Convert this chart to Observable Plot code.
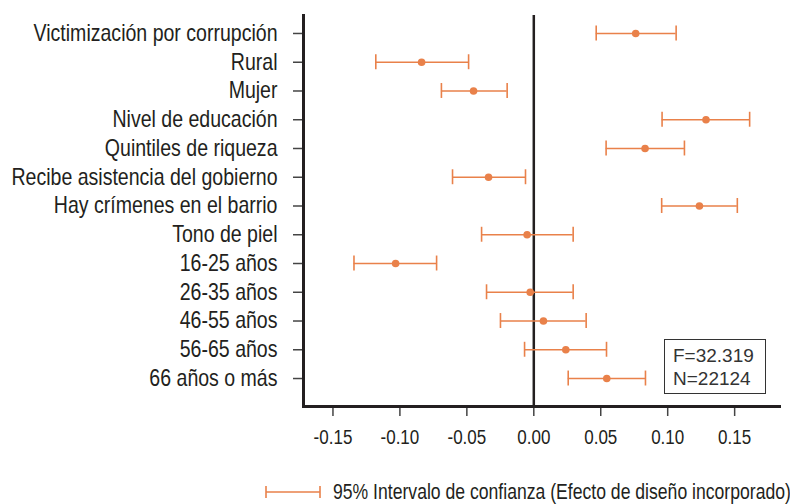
<!DOCTYPE html>
<html>
<head>
<meta charset="utf-8">
<script src="https://cdn.jsdelivr.net/npm/d3@7"></script>
<script src="https://cdn.jsdelivr.net/npm/@observablehq/plot@0.6"></script>
<style>
  html, body { margin: 0; padding: 0; background: #fff; }
  #wrap { position: relative; width: 790px; height: 504px; overflow: hidden; font-family: "Liberation Sans", Arial, sans-serif; color: #231f20; }
  #stats { position: absolute; left: 664px; top: 339px; width: 102px; height: 55px; border: 1.5px solid #333; font-family: "Liberation Sans", Arial, sans-serif; font-size: 19px; line-height: 23px; padding: 4px 0 0 8px; box-sizing: border-box; color: #333; }
  #legend { position: absolute; left: 265px; top: 479px; height: 26px; display: flex; align-items: center; white-space: nowrap; }
  #legend svg { margin-right: 12px; flex: none; }
  #legend span { display: inline-block; font-size: 22px; transform: scaleX(0.8); transform-origin: left center; }
</style>
</head>
<body>
<div id="wrap">
  <div id="chart"></div>
  <div id="stats"></div>
  <div id="legend"></div>
</div>
<script>
const categories = [
  "Victimización por corrupción",
  "Rural",
  "Mujer",
  "Nivel de educación",
  "Quintiles de riqueza",
  "Recibe asistencia del gobierno",
  "Hay crímenes en el barrio",
  "Tono de piel",
  "16-25 años",
  "26-35 años",
  "46-55 años",
  "56-65 años",
  "66 años o más"
];
const estimates = [0.0761, -0.0838, -0.0450, 0.1286, 0.0831, -0.0338, 0.1237, -0.0050, -0.1032, -0.0027, 0.0072, 0.0239, 0.0545];
const lower     = [0.0466, -0.1180, -0.0690, 0.0958, 0.0540, -0.0607, 0.0955, -0.0390, -0.1343, -0.0353, -0.0249, -0.0069, 0.0257];
const upper     = [0.1063, -0.0487, -0.0199, 0.1612, 0.1125, -0.0062, 0.1520, 0.0294, -0.0726, 0.0294, 0.0391, 0.0543, 0.0834];
const xTicks = [-0.15, -0.10, -0.05, 0.00, 0.05, 0.10, 0.15];
const xDomain = [-0.172, 0.1835];
const statsLines = ["F=32.319", "N=22124"];
const legendLabel = "95% Intervalo de confianza (Efecto de diseño incorporado)";

const orange = "#E9814A";
const ink = "#231f20";

const data = categories.map((c, i) => ({c, est: estimates[i], lo: lower[i], hi: upper[i]}));

const chart = Plot.plot({
  width: 790,
  height: 460,
  marginTop: 15,
  marginBottom: 54,
  marginLeft: 303,
  marginRight: 11,
  style: {fontFamily: "'Liberation Sans', Arial, sans-serif", fontSize: "20.5px", color: ink, background: "white", overflow: "visible"},
  x: {domain: xDomain, label: null},
  y: {type: "band", domain: categories, paddingInner: 0.48, paddingOuter: 0, insetTop: 10.5, insetBottom: 20.5, round: false, label: null},
  marks: [
    Plot.axisY({tickSize: 10, tickPadding: 16, fontSize: 23, label: null, stroke: "#444", strokeWidth: 1.5, fill: ink}),
    Plot.axisX({ticks: xTicks, tickFormat: d => d.toFixed(2), tickSize: 10, tickPadding: 13, label: null, stroke: "#444", strokeWidth: 1.5, fill: ink}),
    Plot.frame({anchor: "left", stroke: ink, strokeWidth: 3}),
    Plot.frame({anchor: "bottom", stroke: ink, strokeWidth: 3}),
    Plot.ruleX([0], {stroke: ink, strokeWidth: 2.5}),
    Plot.ruleY(data, {y: "c", x1: "lo", x2: "hi", stroke: orange, strokeWidth: 1.6}),
    Plot.tickX(data, {y: "c", x: "lo", stroke: orange, strokeWidth: 1.6}),
    Plot.tickX(data, {y: "c", x: "hi", stroke: orange, strokeWidth: 1.6}),
    Plot.dot(data, {y: "c", x: "est", r: 3.8, fill: orange, stroke: "none"})
  ]
});

// condense axis label glyphs horizontally (narrow face not installed)
function condense(sel, s) {
  chart.querySelectorAll(sel).forEach(t => {
    const xa = t.getAttribute("x");
    if (xa != null && !isNaN(+xa)) t.setAttribute("x", +xa / s);
    const tr = t.getAttribute("transform") || "";
    t.setAttribute("transform", `${tr} scale(${s},1)`);
  });
}
condense('g[aria-label="y-axis tick label"] text', 0.85);
condense('g[aria-label="x-axis tick label"] text', 0.83);

document.getElementById("chart").appendChild(chart);

document.getElementById("stats").innerHTML = statsLines.map(s => `<div>${s}</div>`).join("");

const leg = document.getElementById("legend");
leg.innerHTML = `<svg width="56" height="14"><line x1="1" x2="55" y1="7" y2="7" stroke="${orange}" stroke-width="1.6"/><line x1="1" x2="1" y1="1" y2="13" stroke="${orange}" stroke-width="1.6"/><line x1="55" x2="55" y1="1" y2="13" stroke="${orange}" stroke-width="1.6"/></svg><span>${legendLabel}</span>`;
</script>
</body>
</html>
